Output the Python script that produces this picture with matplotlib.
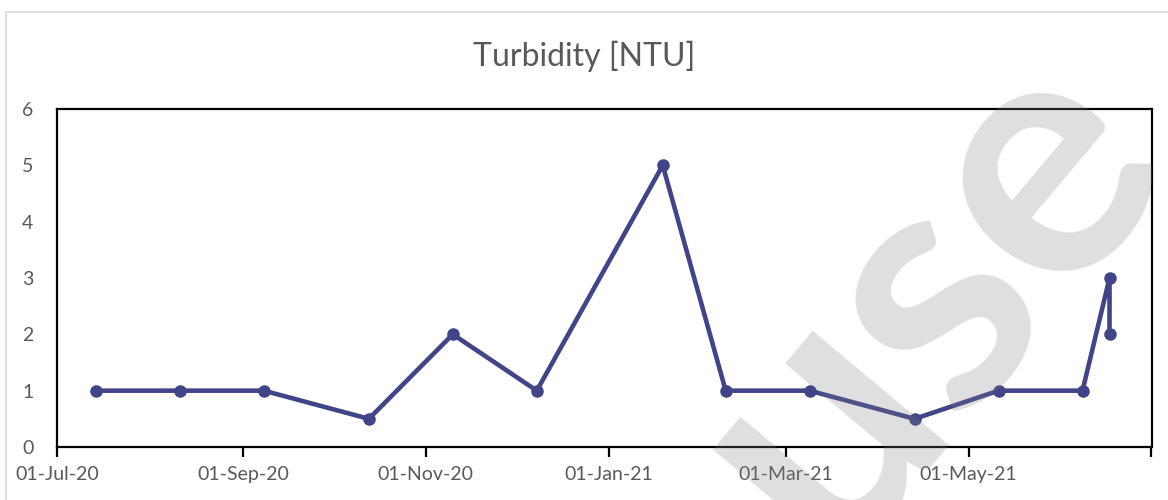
import matplotlib
matplotlib.use("Agg")
import matplotlib.pyplot as plt
from matplotlib.patches import Rectangle
import pandas as pd

dates = ["2020-07-14", "2020-08-11", "2020-09-08", "2020-10-13", "2020-11-10",
         "2020-12-08", "2021-01-19", "2021-02-09", "2021-03-09", "2021-04-13",
         "2021-05-11", "2021-06-08", "2021-06-17", "2021-06-17"]
turbidity = [1, 1, 1, 0.5, 2, 1, 5, 1, 1, 0.5, 1, 1, 3, 2]
tick_dates = ["2020-07-01", "2020-09-01", "2020-11-01", "2021-01-01",
              "2021-03-01", "2021-05-01", "2021-07-01"]
tick_labels = ["01-Jul-20", "01-Sep-20", "01-Nov-20", "01-Jan-21",
               "01-Mar-21", "01-May-21", ""]
y_ticks = [0, 1, 2, 3, 4, 5, 6]
title = "Turbidity [NTU]"

plt.rcParams['font.family'] = ['Lato', 'DejaVu Sans']
W, H = 1168, 500
fig = plt.figure(figsize=(W / 100, H / 100), dpi=100)
fig.patch.set_facecolor('white')

# outer chart border
fig.patches.append(Rectangle((6 / W, -0.1), 1.2, 1 - 12 / H + 0.1,
                             transform=fig.transFigure, fill=False,
                             edgecolor='#d9d9d9', linewidth=1.2))

ax = fig.add_axes([57 / W, 1 - 447 / H, (1151.5 - 57) / W, (447 - 109) / H])
x = pd.to_datetime(dates)
ax.plot(x, turbidity, color='#404488', linewidth=3.3, marker='o',
        markersize=8, solid_joinstyle='round', zorder=3)

ax.set_xlim(pd.Timestamp("2020-07-01"), pd.Timestamp("2021-07-01"))
ax.set_ylim(0, 6)
ax.set_xticks(pd.to_datetime(tick_dates))
ax.set_xticklabels(tick_labels)
ax.set_yticks(y_ticks)
ax.set_yticklabels([str(v) for v in y_ticks])

for s in ax.spines.values():
    s.set_color('black')
    s.set_linewidth(1.6)

ax.tick_params(axis='x', direction='out', length=7, width=1.6, color='black',
               labelsize=14, labelcolor='#595959', pad=7)
ax.tick_params(axis='y', length=0, labelsize=14, labelcolor='#595959', pad=17)

fig.text(0.5, 1 - 56 / H, title, ha='center', va='center', fontsize=23,
         color='#595959')

# watermark
fig.text(925 / W, 1 - 295 / H, "use", ha='center', va='center', rotation=50,
         fontsize=250, fontweight='bold', color='#808080', alpha=0.25,
         zorder=10)

fig.savefig("out.png", dpi=100)
